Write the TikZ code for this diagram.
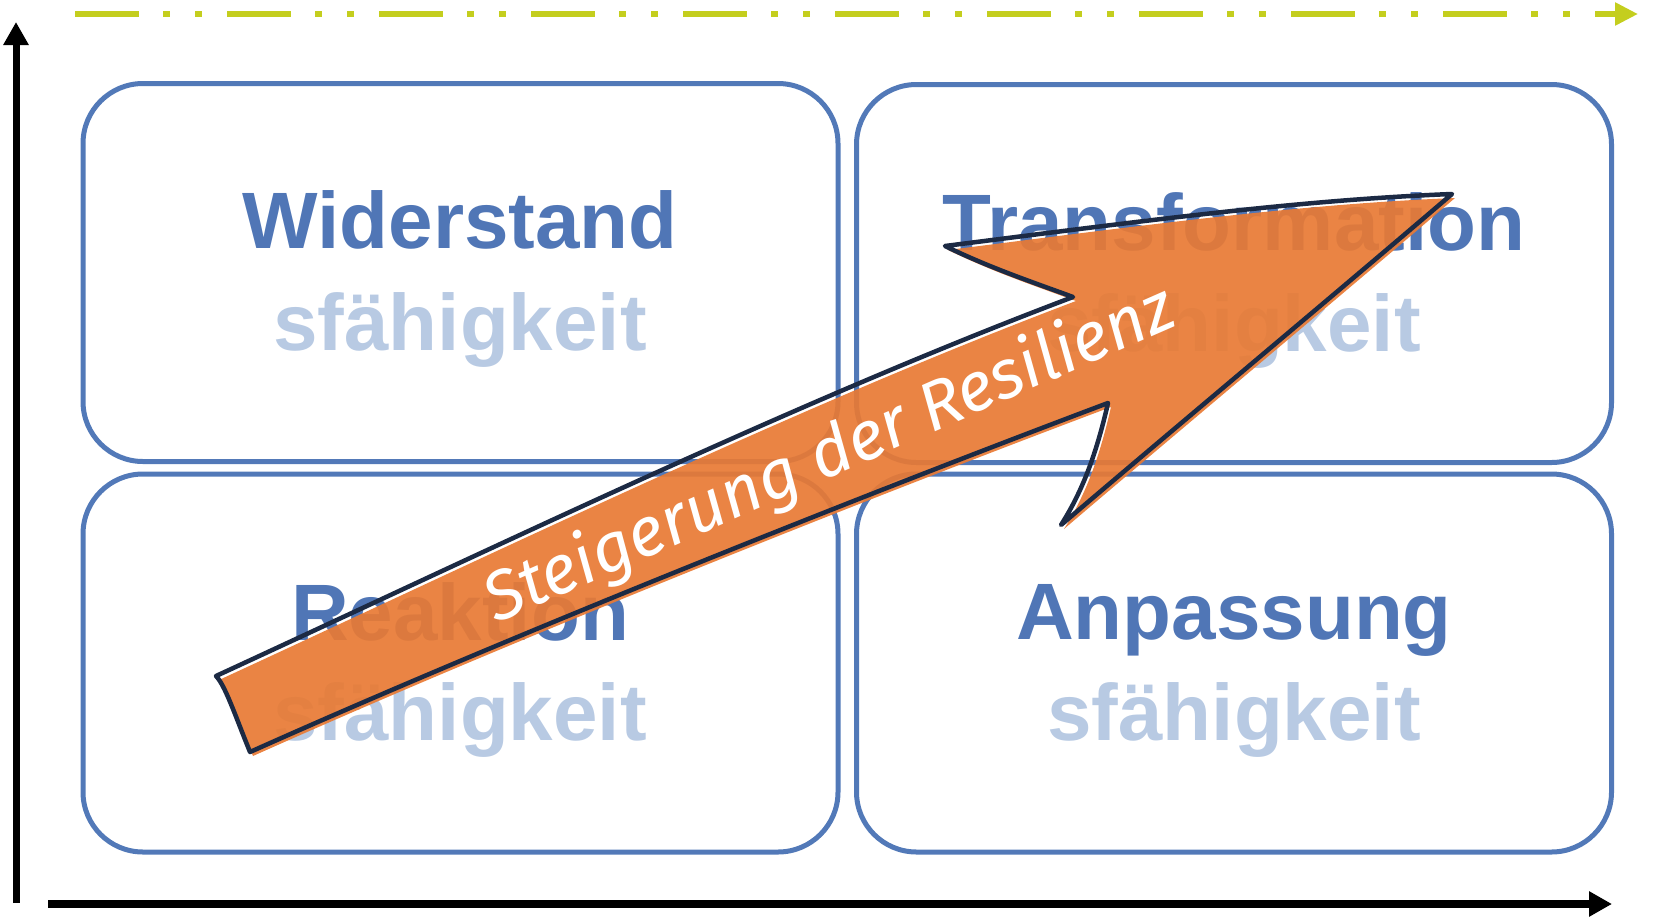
\documentclass[tikz,border=0pt]{standalone}
\usepackage{fontspec}
\usetikzlibrary{arrows.meta}
\newfontfamily\lblfont{Liberation Sans}
\newfontfamily\handfont{Fira Sans Italic}
\definecolor{boxblue}{RGB}{82,121,184}
\definecolor{txtblue}{RGB}{80,118,182}
\definecolor{lightblue}{RGB}{184,202,227}
\definecolor{limegreen}{RGB}{196,206,30}
\definecolor{arroworange}{RGB}{232,122,52}
\definecolor{navyline}{RGB}{28,42,68}
\newcommand{\ResPath}{(216,676) .. controls (500,545) and (800,400) .. (1073,297)
  .. controls (1035,283) and (990,268) .. (945,246)
  .. controls (1150,220) and (1300,200) .. (1452,194)
  .. controls (1340,290) and (1190,415) .. (1061,525)
  .. controls (1080,495) and (1095,460) .. (1108,403)
  .. controls (850,500) and (500,640) .. (250,752)
  .. controls (235,715) and (225,685) .. (216,676) -- cycle}
\begin{document}
\begin{tikzpicture}[x=1pt,y=-1pt,
  qbox/.style={draw=boxblue, line width=5pt, rounded corners=60pt, inner sep=0pt,
    minimum width=755pt, minimum height=378pt},
  headlbl/.style={font=\lblfont\bfseries\fontsize{80}{90}\selectfont, text=txtblue,
    anchor=base, inner sep=0pt},
  sublbl/.style={headlbl, text=lightblue},
  axisline/.style={line width=7pt, draw=black, -{Triangle[length=23pt,width=24pt]}},
  greenline/.style={draw=limegreen, line width=5.5pt,
    dash pattern=on 64pt off 24pt on 7pt off 25pt on 7pt off 25pt,
    -{Triangle[length=23pt,width=22pt]}},
  arrowfill/.style={fill=arroworange, opacity=0.92},
  arrowline/.style={draw=navyline, line width=4.5pt, line join=round},
  arrowtext/.style={text=white, rotate=23.7, anchor=base, inner sep=0pt}]
\useasboundingbox (0,0) rectangle (1665,916);

% axes
\coordinate (g0) at (75,14);
\coordinate (g1) at (1638,14);
\draw[greenline] (g0) -- (g1);
\coordinate (y0) at (16,903);
\coordinate (y1) at (16,22);
\draw[axisline] (y0) -- (y1);
\coordinate (x0) at (48,904);
\coordinate (x1) at (1612,904);
\draw[axisline, line width=8pt] (x0) -- (x1);

% boxes
\node[qbox] (tl) at (460.5,272.5) {};
\node[qbox] (tr) at (1234,273.5) {};
\node[qbox] (bl) at (460.5,663) {};
\node[qbox] (br) at (1234,663) {};

% labels
\node[headlbl] (tlh) at (460,248) {Widerstand};
\node[sublbl]  (tls) at (460,350) {sfähigkeit};
\node[headlbl] (trh) at (1234,250) {Transformation};
\node[sublbl]  (trs) at (1234,351) {sfähigkeit};
\node[headlbl] (blh) at (460,640) {Reaktion};
\node[sublbl]  (bls) at (460,740) {sfähigkeit};
\node[headlbl] (brh) at (1234,639) {Anpassung};
\node[sublbl]  (brs) at (1234,740) {sfähigkeit};

% big arrow
\path[arrowfill, shift={(3,4)}] \ResPath;
\path[arrowline] \ResPath;
\node[arrowtext] (restext) at (838,474) {\resizebox{745pt}{!}{\handfont Steigerung der Resilienz}};
\end{tikzpicture}
\end{document}
